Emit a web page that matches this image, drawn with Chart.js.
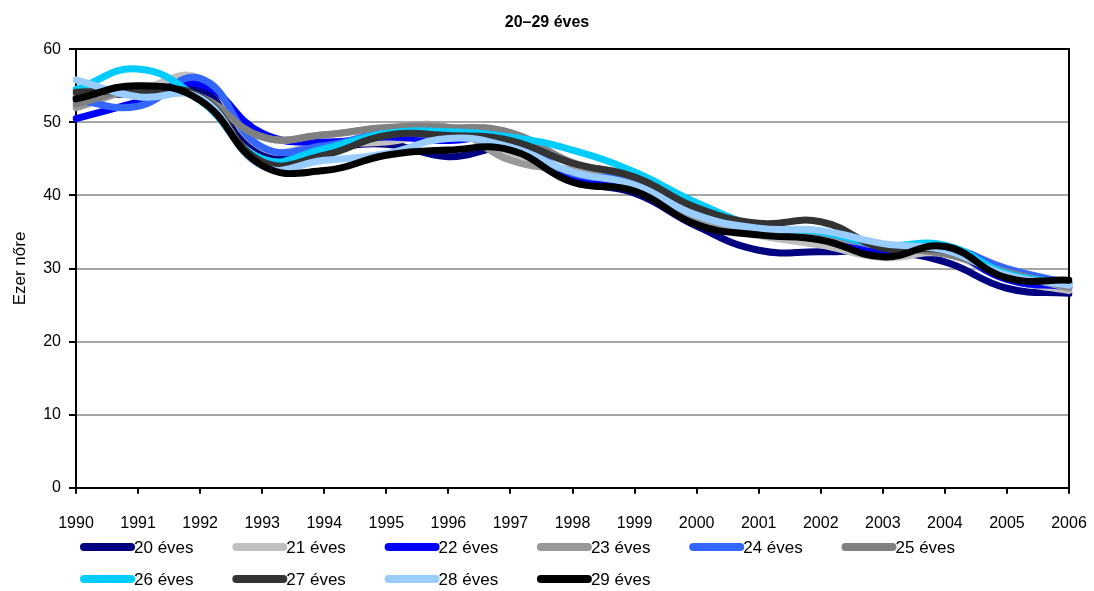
<!DOCTYPE html>
<html>
<head>
<meta charset="utf-8">
<script src="https://cdn.jsdelivr.net/npm/chart.js@4"></script>
<style>
  body { margin: 0; background: #fff; }
  #wrap { width: 1094px; height: 591px; }
</style>
</head>
<body>
<div id="wrap"><canvas id="chart"></canvas></div>
<script>
// years on the x axis
const years = ['1990','1991','1992','1993','1994','1995','1996','1997','1998','1999','2000','2001','2002','2003','2004','2005','2006'];

// births per thousand women (ezer nőre)
const age20 = [53.5, 54.0, 54.5, 46.0, 46.5, 47.0, 45.3, 46.3, 42.0, 40.3, 35.8, 32.5, 32.3, 32.3, 30.9, 27.3, 26.6];
const age21 = [53.5, 54.5, 56.0, 46.5, 47.0, 47.3, 48.5, 45.5, 42.5, 41.0, 36.5, 34.5, 33.2, 31.5, 32.0, 28.5, 27.0];
const age22 = [50.5, 52.8, 55.2, 48.5, 47.3, 48.0, 47.5, 47.8, 42.3, 40.8, 36.0, 35.0, 34.0, 32.5, 32.5, 28.5, 27.5];
const age23 = [52.0, 54.4, 53.5, 48.0, 48.3, 49.2, 49.3, 44.8, 43.5, 42.0, 37.0, 35.0, 34.5, 33.0, 32.0, 29.5, 27.3];
const age24 = [53.0, 52.2, 56.0, 46.6, 46.8, 48.5, 48.0, 47.5, 43.0, 42.0, 37.5, 35.5, 35.0, 33.0, 33.0, 30.0, 28.0];
const age25 = [52.5, 54.5, 53.5, 48.0, 48.3, 49.3, 49.3, 48.6, 44.5, 42.5, 38.0, 35.5, 35.0, 33.0, 32.0, 29.5, 27.5];
const age26 = [54.5, 57.3, 53.0, 45.0, 46.4, 48.5, 48.7, 48.0, 46.2, 43.2, 39.0, 35.8, 35.0, 33.2, 33.2, 29.3, 28.0];
const age27 = [54.1, 54.3, 53.5, 44.6, 45.5, 48.2, 48.2, 47.5, 44.4, 42.5, 38.3, 36.2, 36.4, 32.8, 32.5, 29.0, 28.0];
const age28 = [55.8, 53.5, 53.3, 44.0, 44.8, 45.7, 47.8, 46.6, 43.2, 41.4, 37.3, 35.5, 35.2, 33.4, 32.5, 29.1, 27.7];
const age29 = [53.2, 55.0, 53.0, 44.1, 43.4, 45.5, 46.2, 46.2, 41.8, 40.6, 36.0, 34.6, 33.9, 31.6, 33.0, 28.7, 28.4];

const seriesNames = ['20 éves','21 éves','22 éves','23 éves','24 éves','25 éves','26 éves','27 éves','28 éves','29 éves'];
const seriesValues = [age20, age21, age22, age23, age24, age25, age26, age27, age28, age29];
const seriesColors = ['#000080','#c0c0c0','#0000ff','#999999','#3366ff','#808080','#00ccff','#333333','#99ccff','#000000'];

const yTicks = [0, 10, 20, 30, 40, 50, 60];

Chart.defaults.font.family = '"Liberation Sans", Arial, sans-serif';
Chart.defaults.color = '#000';

// legend in two left-aligned rows of six, like the original
const bottomLegend = {
  id: 'bottomLegend',
  afterDraw(chart) {
    const ctx = chart.ctx;
    ctx.save();
    ctx.font = '17px "Liberation Sans", Arial, sans-serif';
    ctx.textBaseline = 'middle';
    chart.data.datasets.forEach((ds, i) => {
      const col = i % 6, row = Math.floor(i / 6);
      const x = 80 + col * 152.3;
      const y = 547 + row * 32;
      ctx.strokeStyle = ds.borderColor;
      ctx.lineWidth = 8;
      ctx.lineCap = 'round';
      ctx.beginPath();
      ctx.moveTo(x + 4, y);
      ctx.lineTo(x + 51, y);
      ctx.stroke();
      ctx.fillStyle = '#000';
      ctx.fillText(ds.label, x + 54, y + 1);
    });
    ctx.restore();
  }
};

new Chart(document.getElementById('chart'), {
  type: 'line',
  data: {
    labels: years,
    datasets: seriesNames.map((name, i) => ({
      label: name,
      data: seriesValues[i],
      borderColor: seriesColors[i],
      backgroundColor: seriesColors[i],
      borderWidth: 7,
      borderCapStyle: 'round',
      borderJoinStyle: 'round',
      pointRadius: 0,
      tension: 0.45,
      fill: false,
      order: seriesNames.length - i
    }))
  },
  options: {
    responsive: true,
    maintainAspectRatio: false,
    animation: false,
    layout: { padding: { left: 0, right: 0, top: 0, bottom: 38 } },
    plugins: {
      legend: { display: false },
      tooltip: { enabled: false },
      title: {
        display: true,
        text: '20–29 éves',
        font: { size: 16, weight: 'bold' },
        color: '#000',
        padding: { top: 13, bottom: 17 }
      }
    },
    scales: {
      x: {
        type: 'category',
        offset: false,
        afterFit(scale) { scale.paddingLeft = 0; scale.paddingRight = 0; },
        grid: { display: true, drawOnChartArea: false, offset: false, tickLength: 6, color: '#000', lineWidth: 2 },
        border: { color: '#000', width: 2 },
        ticks: { font: { size: 16 }, color: '#000', padding: 20, autoSkip: false, maxRotation: 0 }
      },
      y: {
        min: 0,
        max: 60,
        afterBuildTicks(scale) { scale.ticks = yTicks.map(v => ({ value: v })); },
        afterFit(scale) { scale.width = 76; },
        grid: {
          color: ctx => ctx.tick && ctx.tick.value === 60 ? '#000' : (ctx.tick && ctx.tick.value === 0 ? 'rgba(0,0,0,0)' : '#a6a6a6'),
          tickColor: '#000',
          lineWidth: 2,
          tickLength: 7
        },
        border: { color: '#000', width: 2 },
        ticks: { font: { size: 16 }, color: '#000', padding: 8 },
        title: { display: true, text: 'Ezer nőre', font: { size: 17 }, color: '#000', padding: { top: 10, bottom: 4 } }
      },
      yRight: {
        type: 'linear',
        position: 'right',
        afterFit(scale) { scale.width = 25; },
        grid: { display: false },
        ticks: { display: false },
        border: { display: true, color: '#000', width: 2 }
      }
    }
  },
  plugins: [bottomLegend]
});
</script>
</body>
</html>
